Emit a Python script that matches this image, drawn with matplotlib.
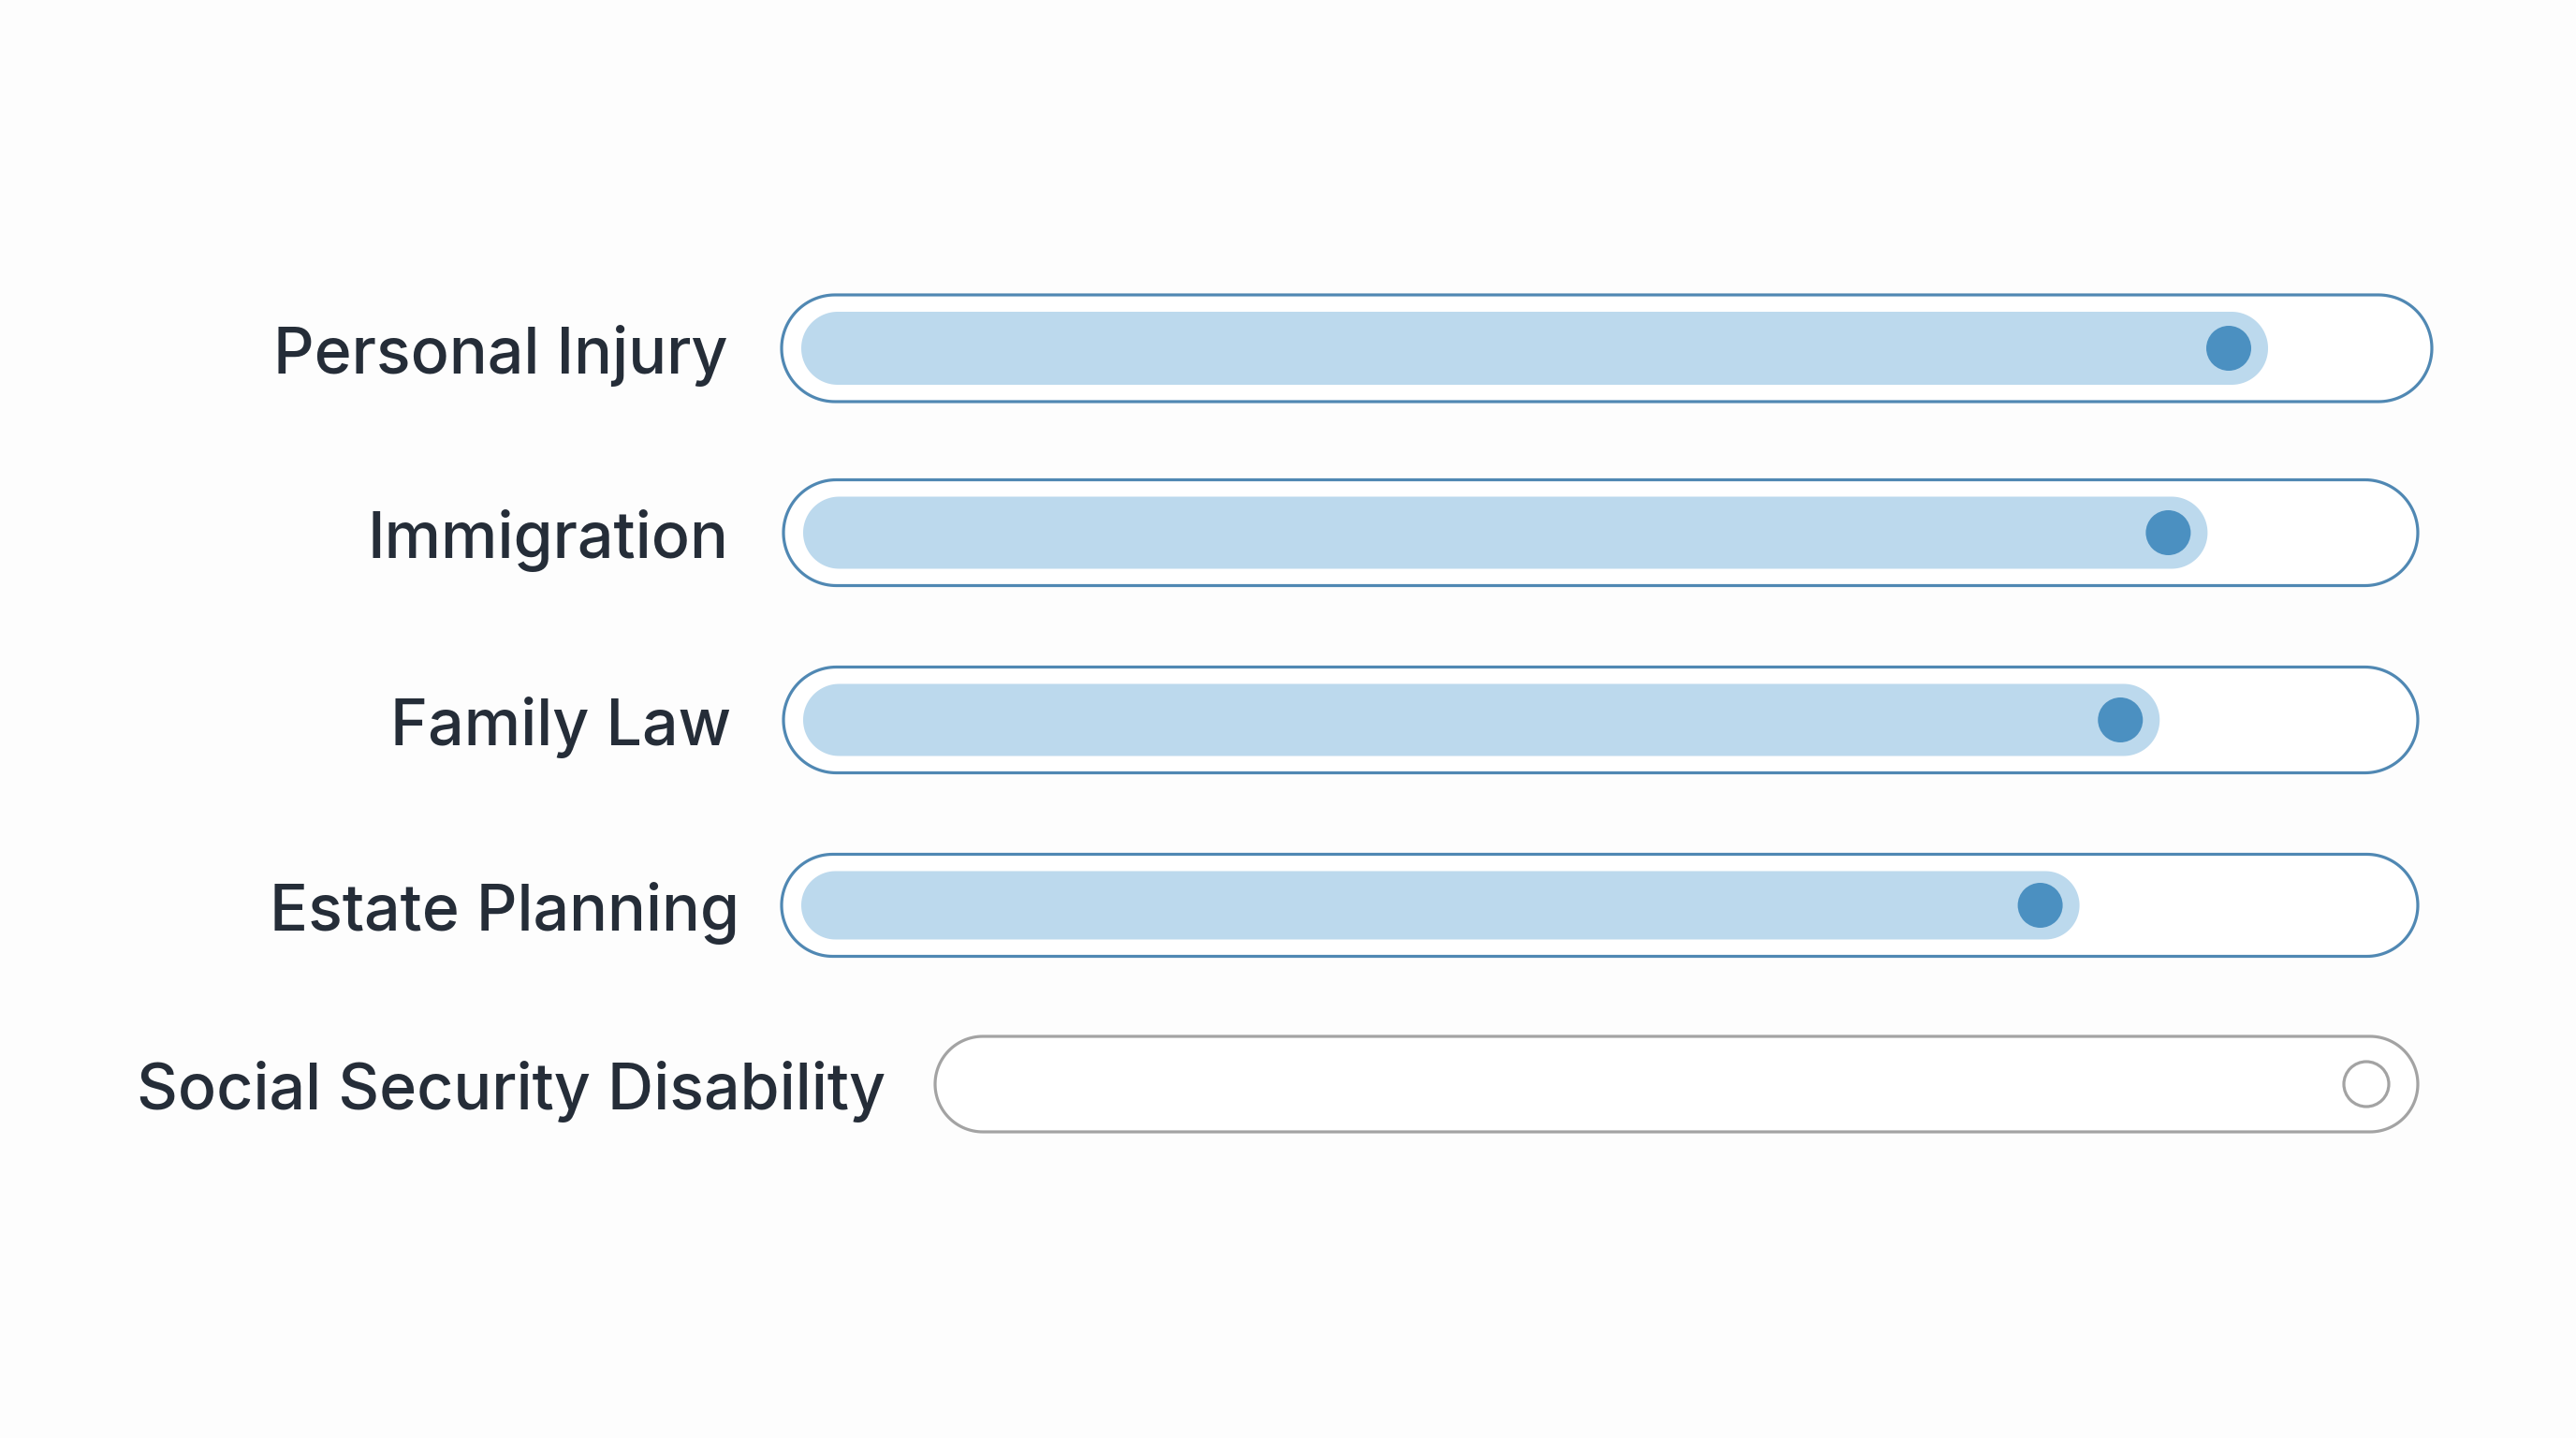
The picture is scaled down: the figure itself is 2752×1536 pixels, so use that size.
import numpy as np
import matplotlib.pyplot as plt
from matplotlib.patches import Polygon, Circle

# data
categories = ["Personal Injury", "Immigration", "Family Law",
              "Estate Planning", "Social Security Disability"]
scores = [91, 88, 85, 80, np.nan]   # no score shown for the last one

# layout (pixel units of the 2752x1536 canvas)
row_y = [372, 569, 769, 967, 1158]
track_left = [835, 837, 837, 835, 999]
track_right = [2598, 2583, 2583, 2583, 2583]
track_h = [114, 113, 113, 109, 102]
label_right = [778, 778, 781, 790, 946]

track_blue = "#5088b3"
track_grey = "#a3a3a3"
fill_blue = "#bcd9ed"
dot_blue = "#4b90c1"
text_col = "#252d38"

plt.rcParams['font.family'] = ['Inter', 'DejaVu Sans']

fig = plt.figure(figsize=(27.52, 15.36), dpi=100)
fig.patch.set_facecolor("#fdfdfd")
ax = fig.add_axes([0, 0, 1, 1])
ax.set_xlim(0, 2752)
ax.set_ylim(1536, 0)
ax.set_aspect("equal")
ax.axis("off")


def pill(x0, x1, yc, h, **kw):
    """両端が半円のバー"""
    r = h / 2
    t = np.linspace(np.pi / 2, 3 * np.pi / 2, 60)
    left = np.column_stack([x0 + r + r * np.cos(t), yc + r * np.sin(t)])
    t2 = np.linspace(-np.pi / 2, np.pi / 2, 60)
    right = np.column_stack([x1 - r + r * np.cos(t2), yc + r * np.sin(t2)])
    return Polygon(np.vstack([left, right]), closed=True, **kw)


for i, name in enumerate(categories):
    yc = row_y[i]
    v = scores[i]
    has_val = not np.isnan(v)

    # 外枠
    edge = track_blue if has_val else track_grey
    ax.add_patch(pill(track_left[i], track_right[i], yc, track_h[i],
                      facecolor="white", edgecolor=edge, linewidth=2.3, zorder=1))

    if has_val:
        # 値に応じた塗り
        f0 = track_left[i] + 21
        f_max = track_right[i] - 20
        f1 = f0 + v / 100 * (f_max - f0)
        fh = track_h[i] - 36
        ax.add_patch(pill(f0, f1, yc, fh, facecolor=fill_blue,
                          edgecolor="none", zorder=2))
        ax.add_patch(Circle((f1 - 42, yc), 24, facecolor=dot_blue,
                            edgecolor="none", zorder=3))
    else:
        ax.add_patch(Circle((track_right[i] - 55, yc), 24, facecolor="white",
                            edgecolor=track_grey, linewidth=2.3, zorder=3))

    ax.text(label_right[i], yc + 27, name, ha="right", va="baseline",
            fontsize=49, fontweight=500, color=text_col)

fig.savefig("out.png", dpi=100, facecolor=fig.get_facecolor())
